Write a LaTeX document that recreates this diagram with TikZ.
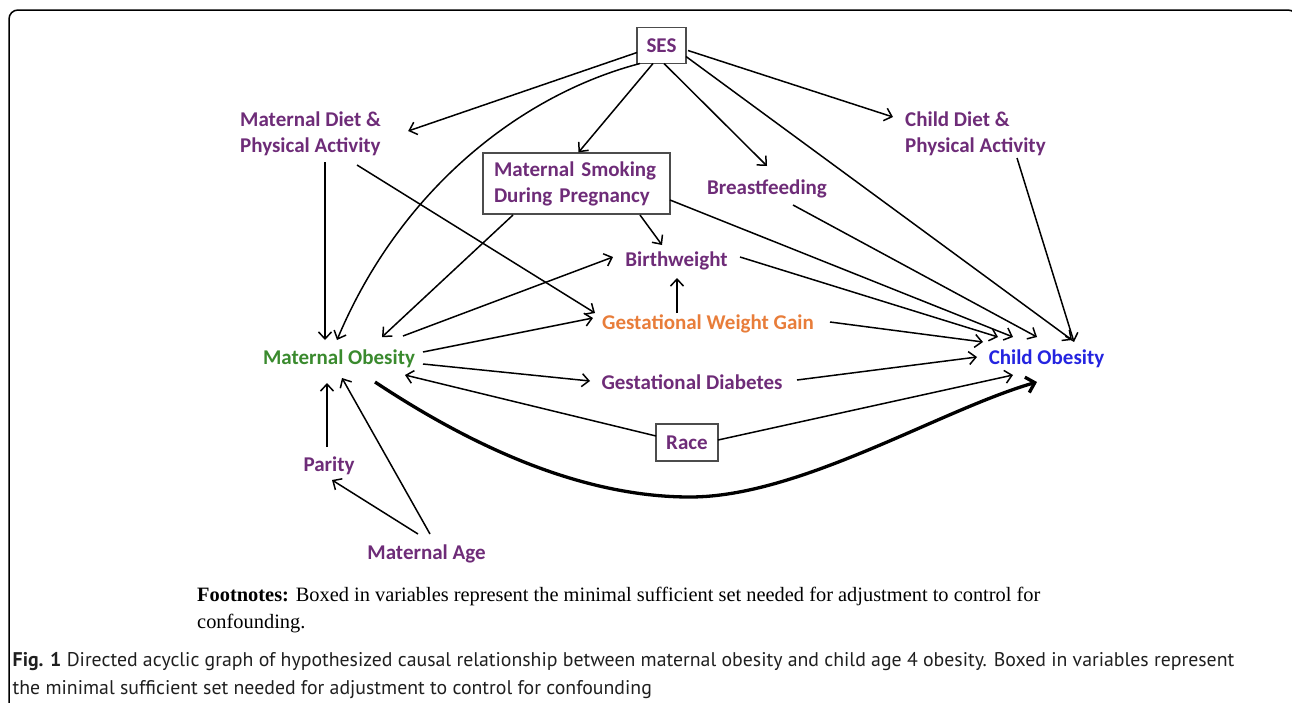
\documentclass[tikz,border=0pt]{standalone}
\usepackage{fontspec}
\setmainfont{Carlito}
\newfontfamily\fnserif{Liberation Serif}
\newfontfamily\capsans{PT Sans}
\usetikzlibrary{arrows.meta,calc}
\definecolor{purp}{HTML}{6E2C78}
\definecolor{grn}{HTML}{3A8A2E}
\definecolor{orng}{HTML}{E87D3A}
\definecolor{blu}{HTML}{2424E0}
\begin{document}
\begin{tikzpicture}[x=1pt,y=-1pt,
  lbl/.style={font=\fontsize{21}{26}\selectfont\bfseries, inner sep=0pt, text=purp},
  one/.style={lbl, text height=15pt, text depth=5pt},
  two/.style={lbl, align=left, anchor=west},
  boxed/.style={lbl, draw=black!70, line width=1.3pt},
  arr/.style={line width=1.5pt, -{Straight Barb[length=7pt,width=13pt]}},
  boldarr/.style={line width=3.3pt, -{Straight Barb[length=8pt,width=16pt]}},
]
\useasboundingbox (0,0) rectangle (1292,702);
\clip (0,0) rectangle (1292,702);
% frame
\draw[line width=1.5pt, rounded corners=9pt] (9,760) -- (9,10) -- (1297,10) -- (1297,760);

% nodes
\node[boxed, text height=14pt, text depth=1pt, minimum width=49pt, minimum height=36pt] (ses) at (661.5,45.5) {SES};
\node[two] (mdiet) at (240,134) {Maternal Diet \&\\Physical Activity};
\node[two] (cdiet) at (905,134) {Child Diet \&\\Physical Activity};
\node[boxed, align=left, text width=165pt, inner xsep=11pt, inner ysep=0pt, minimum height=61pt] (smk) at (576.5,183.5) {Maternal Smoking\\During Pregnancy};
\node[one] (bf) at (767,189.5) {Breastfeeding};
\node[one] (bw) at (676.5,261.5) {Birthweight};
\node[one, text=orng] (gwg) at (708,324.5) {Gestational Weight Gain};
\node[one, text=grn] (mo) at (339,359.5) {Maternal Obesity};
\node[one, text=blu] (co) at (1046.5,359.5) {Child Obesity};
\node[one] (gd) at (692,384.5) {Gestational Diabetes};
\node[boxed, text height=14pt, text depth=1pt, minimum width=62pt, minimum height=37pt] (race) at (687,442.5) {Race};
\node[one] (par) at (329,466.5) {Parity};
\node[one] (age) at (426.5,554.5) {Maternal Age};

% edges
\draw[arr] ($(ses)+(-24.5,7)$) -- ($(mdiet.east)+(27,-3)$);
\draw[arr] ($(ses)+(-21.5,18)$) .. controls (520,95) and (400,190) .. ($(mo)+(-2,-19.5)$);
\draw[arr] ($(ses)+(-8.5,18)$) -- ($(smk.north)+(2,0)$);
\draw[arr] ($(ses)+(2.5,18)$) -- ($(bf)+(0,-23.5)$);
\draw[arr] ($(ses)+(24.5,11)$) -- ($(co)+(25.5,-19.5)$);
\draw[arr] ($(ses)+(26.5,5)$) -- ($(cdiet.west)+(-12,-17)$);
\draw[arr] ($(mdiet.west)+(85,28)$) -- ($(mo)+(-14,-19.5)$);
\draw[arr] ($(mdiet.west)+(117,31)$) -- ($(gwg)+(-113,-11.5)$);
\draw[arr] ($(smk)+(-63.5,31.5)$) -- ($(mo)+(43,-22.5)$);
\draw[arr] ($(smk)+(63.5,31.5)$) -- ($(bw)+(-14.5,-16.5)$);
\draw[arr] ($(smk)+(93.5,16.5)$) -- ($(co)+(-33.5,-22.5)$);
\draw[arr] ($(bf)+(26,15.5)$) -- ($(co)+(-9.5,-22.5)$);
\draw[arr] ($(cdiet.west)+(112,24)$) -- ($(co)+(27.5,-17.5)$);
\draw[arr] ($(mo)+(64,-23.5)$) -- ($(bw)+(-63.5,-4.5)$);
\draw[arr] ($(mo)+(84,-7.5)$) -- ($(gwg)+(-115,-6.5)$);
\draw[arr] ($(mo)+(84,4.5)$) -- ($(gd)+(-102,-3.5)$);
\draw[arr] ($(gwg)+(-31,-11.5)$) -- ($(bw)+(0.5,16.5)$);
\draw[arr] ($(bw)+(63.5,-4.5)$) -- ($(co)+(-48.5,-22.5)$);
\draw[arr] ($(gwg)+(122,-2.5)$) -- ($(co)+(-63.5,-17.5)$);
\draw[arr] ($(gd)+(105,-4.5)$) -- ($(co)+(-69.5,-2.5)$);
\draw[arr] ($(race)+(-31,-6.5)$) -- ($(mo)+(66,15.5)$);
\draw[arr] ($(race)+(31,-2.5)$) -- ($(co)+(-33.5,15.5)$);
\draw[boldarr] ($(mo)+(36,22.5)$) .. controls (470,445) and (580,497) .. (690,497)
   .. controls (800,497) and (940,410) .. ($(co)+(-9.5,22.5)$);
\draw[arr] ($(par)+(-2,-19.5)$) -- ($(mo)+(-12,23.5)$);
\draw[arr] ($(age)+(3.5,-20.5)$) -- ($(mo)+(3,18.5)$);
\draw[arr] ($(age)+(-8.5,-20.5)$) -- ($(par)+(3,13.5)$);

% footnote and caption
\node[anchor=west, inner sep=0pt, align=left, font=\fnserif\fontsize{20.4}{26.5}\selectfont] (fn) at (197,610)
  {\textbf{Footnotes:} Boxed in variables represent the minimal sufficient set needed for adjustment to control for\\confounding.};
\node[anchor=west, inner sep=0pt, align=left, font=\capsans\fontsize{19.8}{28}\selectfont, text=black!88] (cap) at (12.5,676)
  {\textbf{Fig. 1} Directed acyclic graph of hypothesized causal relationship between maternal obesity and child age 4 obesity. Boxed in variables represent\\the minimal sufficient set needed for adjustment to control for confounding};
\end{tikzpicture}
\end{document}
